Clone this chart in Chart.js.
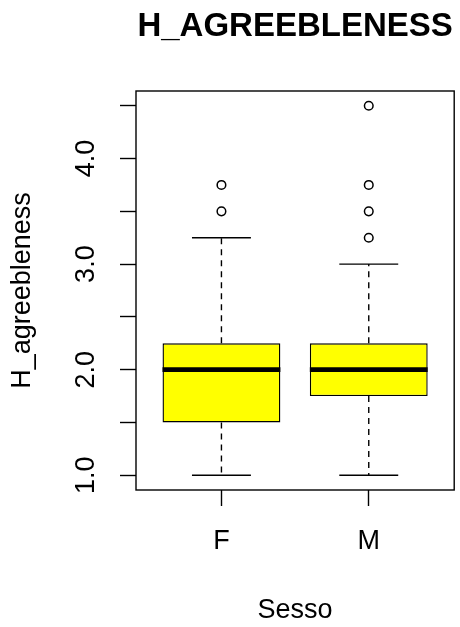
<!DOCTYPE html>
<html>
<head>
<meta charset="utf-8">
<script src="https://cdn.jsdelivr.net/npm/chart.js@4.4.1/dist/chart.umd.min.js"></script>
<style>
  html, body { margin: 0; padding: 0; background: #fff; }
  #wrap { width: 460px; height: 627px; }
</style>
</head>
<body>
<div id="wrap"><canvas id="grafico" width="460" height="627"></canvas></div>
<script>
// Boxplot de H_agreebleness por sexo (estatísticas de cada grupo)
const categorias = ['F', 'M'];
const bigodeInferior = [1.0, 1.0];
const quartil1 = [1.5, 1.75];
const mediana = [2.0, 2.0];
const quartil3 = [2.25, 2.25];
const bigodeSuperior = [3.25, 3.0];
const outliersF = [3.5, 3.75];
const outliersM = [3.25, 3.5, 3.75, 4.5];

// faixa dos eixos como no R: dados +/- 4%
const todosValores = [].concat(bigodeInferior, bigodeSuperior, outliersF, outliersM);
const yLo = Math.min(...todosValores);
const yHi = Math.max(...todosValores);
const yExtra = 0.04 * (yHi - yLo);
const xExtra = 0.04 * categorias.length;

const LARGURA_CAIXA = 0.8;   // boxwex
const LARGURA_HASTE = 0.4;   // staplewex * boxwex
const COR_LINHA = '#000';
const FONTE = "'Liberation Sans', Arial, Helvetica, sans-serif";

Chart.defaults.font.family = FONTE;
Chart.defaults.color = '#000';

// pontos (x, y) para os outliers
const pontosOutliers = [];
outliersF.forEach(v => pontosOutliers.push({ x: 1, y: v }));
outliersM.forEach(v => pontosOutliers.push({ x: 2, y: v }));

// bigodes tracejados, hastes, mediana e moldura do gráfico
const boxplotExtras = {
    id: 'boxplotExtras',
    afterDatasetsDraw(chart) {
        const ctx = chart.ctx;
        const sx = chart.scales.x;
        const sy = chart.scales.y;
        ctx.save();
        ctx.strokeStyle = COR_LINHA;
        categorias.forEach((cat, i) => {
            const xc = sx.getPixelForValue(i + 1);
            const xh0 = sx.getPixelForValue(i + 1 - LARGURA_HASTE / 2);
            const xh1 = sx.getPixelForValue(i + 1 + LARGURA_HASTE / 2);
            const xb0 = sx.getPixelForValue(i + 1 - LARGURA_CAIXA / 2);
            const xb1 = sx.getPixelForValue(i + 1 + LARGURA_CAIXA / 2);

            // bigodes (tracejado)
            ctx.lineWidth = 1.4;
            ctx.setLineDash([6, 5]);
            ctx.beginPath();
            ctx.moveTo(xc, sy.getPixelForValue(quartil3[i]));
            ctx.lineTo(xc, sy.getPixelForValue(bigodeSuperior[i]));
            ctx.moveTo(xc, sy.getPixelForValue(quartil1[i]));
            ctx.lineTo(xc, sy.getPixelForValue(bigodeInferior[i]));
            ctx.stroke();

            // hastes
            ctx.setLineDash([]);
            ctx.beginPath();
            ctx.moveTo(xh0, sy.getPixelForValue(bigodeSuperior[i]));
            ctx.lineTo(xh1, sy.getPixelForValue(bigodeSuperior[i]));
            ctx.moveTo(xh0, sy.getPixelForValue(bigodeInferior[i]));
            ctx.lineTo(xh1, sy.getPixelForValue(bigodeInferior[i]));
            ctx.stroke();

            // mediana
            ctx.lineWidth = 4.6;
            ctx.lineCap = 'butt';
            ctx.beginPath();
            ctx.moveTo(xb0, sy.getPixelForValue(mediana[i]));
            ctx.lineTo(xb1, sy.getPixelForValue(mediana[i]));
            ctx.stroke();
        });

        const a = chart.chartArea;
        ctx.lineWidth = 1.4;
        ctx.strokeRect(a.left, a.top, a.right - a.left, a.bottom - a.top);
        ctx.restore();
    }
};

const config = {
    data: {
        datasets: [
            {
                type: 'scatter',
                label: 'outliers',
                data: pontosOutliers,
                pointStyle: 'circle',
                pointRadius: 4.3,
                pointBorderWidth: 1.5,
                pointBorderColor: COR_LINHA,
                pointBackgroundColor: 'rgba(0,0,0,0)',
            },
            {
                type: 'bar',
                label: 'caixa',
                data: categorias.map((c, i) => ({ x: i + 1, y: [quartil1[i], quartil3[i]] })),
                backgroundColor: '#ffff00',
                borderColor: COR_LINHA,
                borderWidth: 1.4,
                borderSkipped: false,
                barPercentage: LARGURA_CAIXA,
                categoryPercentage: 1,
            }
        ]
    },
    options: {
        responsive: false,
        animation: false,
        events: [],
        layout: { padding: { left: 0, right: 3, top: 0, bottom: 0 } },
        plugins: {
            legend: { display: false },
            tooltip: { enabled: false },
            title: {
                display: true,
                text: 'H_AGREEBLENESS',
                fullSize: false,
                color: '#000',
                font: { size: 33, weight: 'bold', family: FONTE, lineHeight: 1.2 },
                padding: { top: 7, bottom: 44.4 }
            }
        },
        scales: {
            x: {
                type: 'linear',
                offset: false,
                min: 1 - 0.5 - xExtra,
                max: categorias.length + 0.5 + xExtra,
                afterFit(scale) { scale.height = 137; },
                border: { display: false },
                grid: {
                    offset: false,
                    drawOnChartArea: false,
                    drawTicks: true,
                    tickLength: 16,
                    tickColor: COR_LINHA,
                    tickWidth: 1.4
                },
                ticks: {
                    stepSize: 1,
                    includeBounds: false,
                    autoSkip: false,
                    maxRotation: 0,
                    padding: 19,
                    font: { size: 27, family: FONTE, lineHeight: 1.2 },
                    callback: (v) => categorias[v - 1] ?? ''
                },
                title: {
                    display: true,
                    text: 'Sesso',
                    font: { size: 27, family: FONTE, lineHeight: 1.2 },
                    padding: { top: 0, bottom: 0 }
                }
            },
            y: {
                type: 'linear',
                position: 'left',
                min: yLo - yExtra,
                max: yHi + yExtra,
                afterFit(scale) { scale.width = 136; },
                border: { display: false },
                grid: {
                    drawOnChartArea: false,
                    drawTicks: true,
                    tickLength: 16,
                    tickColor: COR_LINHA,
                    tickWidth: 1.4
                },
                ticks: {
                    stepSize: 0.5,
                    includeBounds: false,
                    autoSkip: false,
                    minRotation: 90,
                    maxRotation: 90,
                    crossAlign: 'center',
                    padding: 15,
                    font: { size: 27, family: FONTE, lineHeight: 1.2 },
                    callback: (v) => Math.abs(v - Math.round(v)) < 1e-6 ? v.toFixed(1) : ''
                },
                title: {
                    display: true,
                    text: 'H_agreebleness',
                    font: { size: 27, family: FONTE, lineHeight: 1.2 },
                    padding: { top: 6, bottom: 0 }
                }
            }
        }
    },
    plugins: [boxplotExtras]
};

new Chart(document.getElementById('grafico'), config);
</script>
</body>
</html>
